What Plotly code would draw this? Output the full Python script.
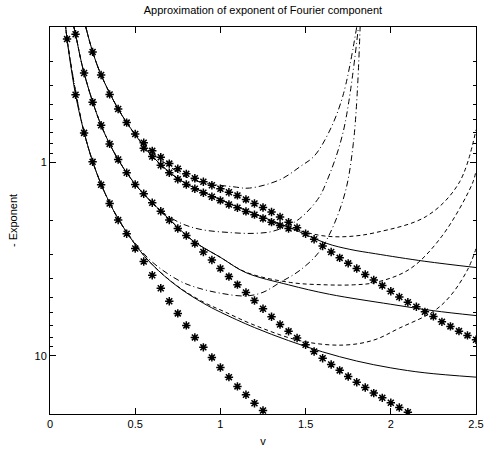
import plotly.graph_objects as go

# ---- data ----
# exact values (asterisks)
vA = [0.10,0.15,0.20,0.25,0.30,0.35,0.40,0.45,0.50,0.55,0.60,0.65,0.70,0.75,0.80,0.85,0.90,0.95,1.00,1.05,1.10,1.15,1.20,1.25]
yA = [0.231,0.448,0.705,0.995,1.308,1.633,1.99,2.34,2.79,3.26,3.84,4.48,5.23,6.04,6.97,8.04,9.05,10.2,11.5,12.9,14.4,15.9,17.6,19.2]

vB = [0.15,0.20,0.25,0.30,0.35,0.40,0.45,0.50,0.55,0.60,0.65,0.70,0.75,0.80,0.85,0.90,0.95,1.00,1.05,1.10,
      1.15,1.20,1.25,1.30,1.35,1.40,1.45,1.50,1.55,1.60,1.65,1.70,1.75,1.80,1.85,1.90,1.95,2.00,2.05,2.10]
yB = [0.218,0.346,0.489,0.644,0.804,0.968,1.134,1.303,1.455,1.62,1.79,1.99,2.20,2.39,2.63,2.91,3.20,3.54,3.90,4.29,
      4.71,5.18,5.72,6.29,6.89,7.48,8.10,8.78,9.51,10.3,11.1,11.9,12.8,13.7,14.6,15.6,16.5,17.5,18.5,19.6]

vC1 = [0.25,0.30,0.35,0.40,0.45,0.50,0.55,0.60,0.65,0.70,0.75,0.80,0.85,0.90,0.95,1.00,1.05,1.10,1.15,1.20,1.25,1.30,1.35,
       1.40,1.45,1.50,1.55,1.60,1.65,1.70,1.75,1.80,1.85,1.90,1.95,2.00,2.05,2.10,2.15,2.20,2.25,2.30,2.35,2.40,2.45,2.50]
yC1 = [0.269,0.354,0.446,0.531,0.624,0.714,0.792,0.873,0.942,1.016,1.081,1.148,1.209,1.262,1.314,1.371,1.428,1.484,1.556,1.633,1.712,1.806,1.917,
       2.04,2.18,2.34,2.50,2.71,2.91,3.12,3.33,3.54,3.80,4.06,4.34,4.64,4.97,5.29,5.58,5.93,6.26,6.68,7.05,7.46,7.85,8.27]

vC2 = [0.55,0.60,0.65,0.70,0.75,0.80,0.85,0.90,0.95,1.00,1.05,1.10,1.15,1.20,1.25,1.30,1.35,1.40]
yC2 = [0.847,0.935,1.036,1.134,1.224,1.303,1.371,1.438,1.507,1.575,1.652,1.718,1.795,1.866,1.95,2.04,2.12,2.20]

# solid approximations
vSA = [0.09,0.10,0.15,0.20,0.25,0.30,0.35,0.40,0.50,0.60,0.75,0.90,1.00,1.20,1.40,1.60,1.80,2.00,2.20,2.50]
ySA = [0.19,0.231,0.448,0.70,0.99,1.30,1.62,1.96,2.66,3.38,4.40,5.35,5.95,7.15,8.35,9.55,10.65,11.55,12.25,12.9]
vSB = [0.14,0.15,0.20,0.30,0.40,0.50,0.60,0.70,0.84,1.00,1.15,1.40,1.64,2.00,2.25,2.50]
ySB = [0.20,0.218,0.346,0.644,0.968,1.30,1.62,1.97,2.55,3.10,3.72,4.30,4.81,5.42,5.85,6.20]
vSC = [0.21,0.25,0.30,0.40,0.50,0.60,0.76,1.00,1.20,1.41,1.62,1.76,1.91,2.20,2.50]
ySC = [0.20,0.268,0.354,0.53,0.72,0.93,1.23,1.56,1.85,2.18,2.62,2.82,2.97,3.25,3.50]

# dashed approximations
vDA = [0.09,0.10,0.20,0.30,0.40,0.50,0.60,0.75,0.90,1.02,1.20,1.47,1.72,1.90,2.05,2.25,2.35,2.45,2.50]
yDA = [0.19,0.231,0.70,1.30,1.96,2.66,3.38,4.38,5.28,5.90,6.95,8.37,8.81,8.30,7.20,5.90,4.90,3.60,2.80]
vDB = [0.14,0.15,0.20,0.30,0.40,0.50,0.60,0.70,0.84,1.00,1.15,1.41,1.62,1.78,1.91,2.11,2.30,2.48,2.50]
yDB = [0.20,0.218,0.346,0.644,0.968,1.30,1.62,1.97,2.55,3.10,3.70,4.18,4.30,4.30,4.18,3.57,2.41,1.28,1.10]
vDC = [0.21,0.25,0.30,0.40,0.50,0.60,0.76,1.00,1.20,1.33,1.50,1.62,1.75,1.91,2.21,2.40,2.50]
yDC = [0.20,0.268,0.354,0.53,0.72,0.93,1.23,1.56,1.84,2.08,2.30,2.41,2.42,2.31,1.90,1.28,0.68]

# dash-dot approximations
vTA = [0.09,0.10,0.20,0.30,0.40,0.50,0.60,0.76,0.86,1.00,1.15,1.25,1.35,1.47,1.59,1.72,1.78,1.82]
yTA = [0.19,0.231,0.70,1.30,1.96,2.62,3.28,4.10,4.44,4.75,4.91,4.70,4.18,3.60,2.82,1.56,0.80,0.20]
vTB = [0.14,0.15,0.20,0.30,0.40,0.50,0.64,0.76,0.88,1.06,1.20,1.31,1.45,1.57,1.62,1.72,1.81]
yTB = [0.20,0.218,0.346,0.644,0.968,1.29,1.75,2.05,2.22,2.31,2.33,2.27,2.00,1.56,1.28,0.70,0.20]
vTC = [0.21,0.25,0.30,0.40,0.50,0.70,0.86,1.08,1.17,1.35,1.47,1.55,1.64,1.72,1.80]
yTC = [0.20,0.268,0.354,0.53,0.72,1.05,1.25,1.34,1.36,1.23,1.05,0.93,0.69,0.45,0.20]

fig = go.Figure()
LW = 1.0
for vx, vy in [(vSA, ySA), (vSB, ySB), (vSC, ySC)]:
    fig.add_trace(go.Scatter(x=vx, y=vy, mode="lines", line=dict(color="black", width=LW, shape="spline")))
for vx, vy in [(vDA, yDA), (vDB, yDB), (vDC, yDC)]:
    fig.add_trace(go.Scatter(x=vx, y=vy, mode="lines", line=dict(color="black", width=LW, dash="4px,3px", shape="spline")))
for vx, vy in [(vTA, yTA), (vTB, yTB), (vTC, yTC)]:
    fig.add_trace(go.Scatter(x=vx, y=vy, mode="lines", line=dict(color="black", width=LW, dash="6px,3px,1px,3px", shape="spline")))
for vx, vy in [(vA, yA), (vB, yB), (vC1, yC1), (vC2, yC2)]:
    fig.add_trace(go.Scatter(x=vx, y=vy, mode="markers",
                             marker=dict(symbol="asterisk-open", size=7, color="black", line=dict(color="black", width=1.5))))

axis_common = dict(showline=True, linecolor="black", linewidth=1, mirror="allticks", ticks="inside",
                   tickcolor="black", ticklen=6, showgrid=False, zeroline=False, automargin=False,
                   tickfont=dict(family="Liberation Sans, Arial, sans-serif", size=11, color="black"))

fig.update_layout(
    width=486, height=456,
    margin=dict(l=50, r=10, t=27, b=42, autoexpand=False),
    paper_bgcolor="white", plot_bgcolor="white",
    showlegend=False,
    font=dict(family="Liberation Sans, Arial, sans-serif", size=11, color="black"),
    title=dict(text="Approximation of exponent of Fourier component", x=0.541, xanchor="center",
               y=0.978, yanchor="middle", font=dict(size=11)),
    xaxis=dict(range=[0, 2.5], tickvals=[0, 0.5, 1, 1.5, 2, 2.5], ticktext=["0", "0.5", "1", "1.5", "2", "2.5"],
               title=dict(text="v", standoff=8, font=dict(size=11)), **axis_common),
    yaxis=dict(type="log", range=[1.30103, -0.69897], tickvals=[1, 10], ticktext=["1", "10"],
               title=dict(text="- Exponent", standoff=14, font=dict(size=11)),
               minor=dict(ticks="inside", ticklen=3, tickcolor="black",
                          tickvals=[0.3, 0.4, 0.5, 0.6, 0.7, 0.8, 0.9, 2, 3, 4, 5, 6, 7, 8, 9]),
               **axis_common),
)

fig.write_html("out.html")
